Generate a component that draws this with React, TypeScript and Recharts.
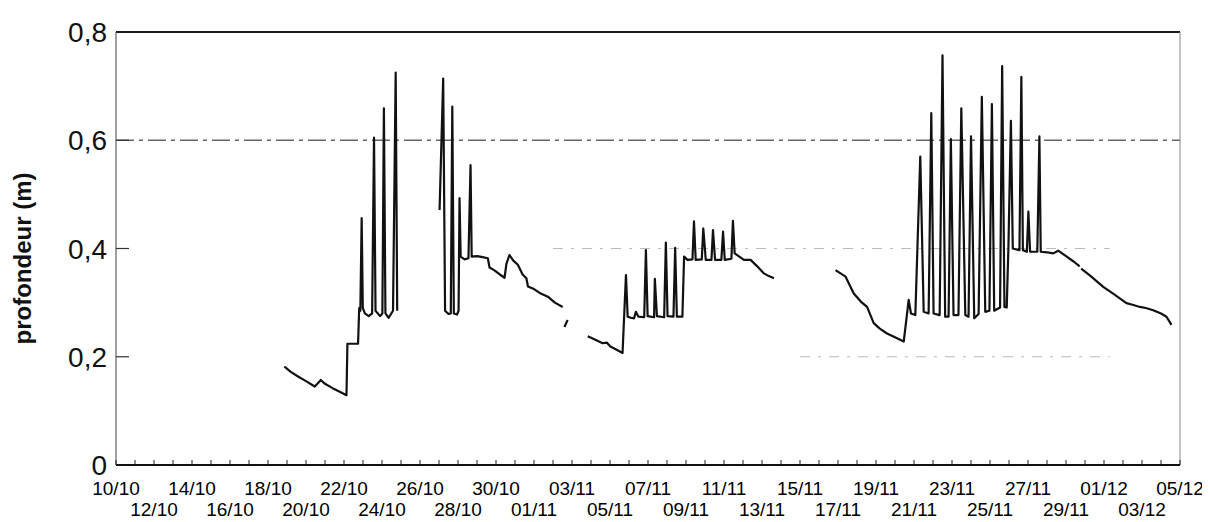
import React from 'react';
import { LineChart, Line, XAxis, YAxis, ReferenceLine } from 'recharts';

// Time in days since 10/10 (00:00); null depth breaks the trace (logger gaps).
const times: number[] = [
  // 18/10 – 24/10
  8.86, 9.2, 9.6, 10.0, 10.46, 10.6, 10.78, 11.0, 11.4, 11.8, 12.13, 12.18, 12.74, 12.8, 12.86, 12.93, 12.99,
  13.1, 13.3, 13.48, 13.58, 13.66, 13.9, 14.02, 14.1, 14.18, 14.35, 14.58, 14.72, 14.8,
  15.9,
  // 27/10 – 02/11
  17.03, 17.22, 17.32, 17.5, 17.62, 17.7, 17.78, 17.95, 18.03, 18.08, 18.14, 18.35, 18.55, 18.66, 18.72,
  19.0, 19.3, 19.57, 19.66, 19.9, 20.2, 20.45, 20.55, 20.71, 20.9, 21.15, 21.4, 21.6, 21.68, 22.0, 22.3,
  22.73, 23.1, 23.51,
  23.55,
  23.6, 23.77,
  24.3,
  // 03/11 – 13/11
  24.83, 25.2, 25.61, 25.84, 26.02, 26.3, 26.66, 26.84, 26.93, 27.1, 27.27, 27.36, 27.5, 27.8, 27.89, 27.98,
  28.32, 28.36, 28.47, 28.85, 28.94, 29.03, 29.34, 29.43, 29.52, 29.81, 29.9, 30.08, 30.34, 30.42, 30.51,
  30.83, 30.91, 31.04, 31.34, 31.42, 31.53, 31.86, 31.95, 32.04, 32.39, 32.47, 32.56, 33.05, 33.4, 33.75,
  34.1, 34.36, 34.63,
  36.2,
  // 17/11 – 05/12
  37.87, 38.4, 38.83, 39.2, 39.53, 39.88, 40.2, 40.58, 41.0, 41.46, 41.72, 41.84, 42.07, 42.33, 42.51,
  42.77, 42.91, 43.03, 43.35, 43.5, 43.64, 43.82, 43.94, 44.08, 44.34, 44.49, 44.7, 44.87, 45.0, 45.17,
  45.4, 45.57, 45.75, 45.97, 46.1, 46.22, 46.53, 46.64, 46.76, 46.88, 46.97, 47.1, 47.2, 47.55, 47.65,
  47.73, 47.94, 48.02, 48.11, 48.49, 48.6, 48.67, 49.0, 49.33, 49.59, 50.04, 50.4, 50.72,
  50.76,
  50.8, 51.3, 51.96, 52.5, 53.18, 53.5, 53.89, 54.2, 54.59, 55.0, 55.29, 55.55,
];

const depth: (number | null)[] = [
  0.182, 0.172, 0.163, 0.155, 0.145, 0.15, 0.157, 0.15, 0.142, 0.135, 0.129, 0.224, 0.224, 0.29, 0.285, 0.456, 0.29,
  0.28, 0.275, 0.28, 0.605, 0.285, 0.275, 0.28, 0.659, 0.28, 0.272, 0.285, 0.725, 0.285,
  null,
  0.471, 0.714, 0.285, 0.279, 0.28, 0.662, 0.28, 0.278, 0.285, 0.493, 0.385, 0.38, 0.382, 0.554, 0.385,
  0.386, 0.384, 0.382, 0.365, 0.36, 0.352, 0.346, 0.372, 0.388, 0.378, 0.37, 0.352, 0.345, 0.33, 0.325, 0.318,
  0.311, 0.3, 0.292,
  null,
  0.255, 0.268,
  null,
  0.238, 0.232, 0.225, 0.226, 0.219, 0.214, 0.207, 0.351, 0.274, 0.272, 0.271, 0.283, 0.274, 0.273, 0.397, 0.275,
  0.273, 0.344, 0.275, 0.273, 0.411, 0.275, 0.274, 0.401, 0.274, 0.274, 0.385, 0.379, 0.38, 0.45, 0.379,
  0.38, 0.437, 0.379, 0.379, 0.434, 0.379, 0.379, 0.431, 0.379, 0.381, 0.451, 0.391, 0.379, 0.379, 0.367,
  0.354, 0.349, 0.345,
  null,
  0.36, 0.348, 0.317, 0.302, 0.292, 0.262, 0.252, 0.243, 0.236, 0.228, 0.305, 0.28, 0.277, 0.57, 0.283,
  0.28, 0.65, 0.28, 0.277, 0.757, 0.274, 0.274, 0.602, 0.277, 0.277, 0.659, 0.277, 0.274, 0.607, 0.271,
  0.279, 0.68, 0.283, 0.285, 0.667, 0.285, 0.291, 0.737, 0.292, 0.291, 0.403, 0.636, 0.4, 0.397, 0.717,
  0.397, 0.394, 0.468, 0.394, 0.394, 0.607, 0.394, 0.393, 0.391, 0.396, 0.385, 0.376, 0.367,
  null,
  0.363, 0.349, 0.329, 0.316, 0.299, 0.296, 0.292, 0.29, 0.286, 0.28, 0.274, 0.259,
];

// Date labels, one every two days from 10/10 to 05/12
const dateLabels: string[] = [
  '10/10', '12/10', '14/10', '16/10', '18/10', '20/10', '22/10', '24/10', '26/10', '28/10',
  '30/10', '01/11', '03/11', '05/11', '07/11', '09/11', '11/11', '13/11', '15/11', '17/11',
  '19/11', '21/11', '23/11', '25/11', '27/11', '29/11', '01/12', '03/12', '05/12',
];

const depthTicks: number[] = [0, 0.2, 0.4, 0.6, 0.8];
const depthTickLabels: string[] = ['0', '0,2', '0,4', '0,6', '0,8'];

const dayTicks: number[] = Array.from({ length: 57 }, (_, i) => i);

const data = times.map((t, i) => ({ t, d: depth[i] }));

const FONT = "Arial, 'Liberation Sans', sans-serif";

const DayTick = (props: any) => {
  const { x, y, payload } = props;
  const day = payload.value as number;
  const labelled = day % 2 === 0;
  const row = (day / 2) % 2 === 0 ? 0 : 1;
  return (
    <g>
      <line x1={x} y1={y} x2={x} y2={y - 5} stroke="#222" strokeWidth={1} />
      {labelled && (
        <text
          x={x}
          y={y + (row === 0 ? 30 : 51)}
          textAnchor="middle"
          fontFamily={FONT}
          fontSize={19}
          fill="#000"
        >
          {dateLabels[day / 2]}
        </text>
      )}
    </g>
  );
};

const DepthTick = (props: any) => {
  const { x, y, payload } = props;
  const v = payload.value as number;
  const idx = depthTicks.indexOf(v);
  return (
    <g>
      {v > 0 && v < 0.8 && (
        <line x1={x} y1={y} x2={x + 13} y2={y} stroke="#333" strokeWidth={1.2} />
      )}
      <text
        x={x - 9}
        y={y}
        dy="0.36em"
        textAnchor="end"
        fontFamily={FONT}
        fontSize={28}
        fill="#111"
      >
        {depthTickLabels[idx]}
      </text>
    </g>
  );
};

const AxisTitle = (props: any) => {
  const { viewBox } = props;
  const cx = viewBox.x + 14;
  const cy = viewBox.y + viewBox.height / 2 + 10;
  return (
    <text
      x={cx}
      y={cy}
      transform={`rotate(-90, ${cx}, ${cy})`}
      textAnchor="middle"
      dominantBaseline="central"
      fontFamily={FONT}
      fontSize={24}
      fontWeight="bold"
      fill="#111"
    >
      profondeur (m)
    </text>
  );
};

export default function App() {
  return (
    <div style={{ background: '#fff', width: 1202, height: 514 }}>
      <LineChart
        width={1202}
        height={514}
        data={data}
        margin={{ top: 24, right: 30, left: 0, bottom: 0 }}
      >
        <XAxis
          dataKey="t"
          type="number"
          domain={[0, 56]}
          ticks={dayTicks}
          interval={0}
          allowDecimals={false}
          height={57}
          tickSize={0}
          tickMargin={0}
          tickLine={false}
          axisLine={{ stroke: '#111', strokeWidth: 2 }}
          tick={<DayTick />}
        />
        <YAxis
          type="number"
          domain={[0, 0.8]}
          ticks={depthTicks}
          interval={0}
          width={108}
          tickSize={0}
          tickMargin={0}
          tickLine={false}
          axisLine={{ stroke: '#444', strokeWidth: 1 }}
          tick={<DepthTick />}
          label={<AxisTitle />}
        />
        <ReferenceLine y={0.6} stroke="#666" strokeWidth={1.4} strokeDasharray="18 5 4 5" />
        <ReferenceLine
          segment={[{ x: 23, y: 0.4 }, { x: 52.3, y: 0.4 }]}
          stroke="#bbb"
          strokeWidth={1.2}
          strokeDasharray="10 8 3 8"
        />
        <ReferenceLine
          segment={[{ x: 36, y: 0.2 }, { x: 52.3, y: 0.2 }]}
          stroke="#bbb"
          strokeWidth={1.2}
          strokeDasharray="10 8 3 8"
        />
        <ReferenceLine y={0.8} stroke="#1a1a1a" strokeWidth={2} />
        <ReferenceLine x={56} stroke="#888" strokeWidth={1} />
        <Line
          type="linear"
          dataKey="d"
          stroke="#111"
          strokeWidth={2.2}
          strokeLinejoin="round"
          dot={false}
          connectNulls={false}
          isAnimationActive={false}
        />
      </LineChart>
    </div>
  );
}
